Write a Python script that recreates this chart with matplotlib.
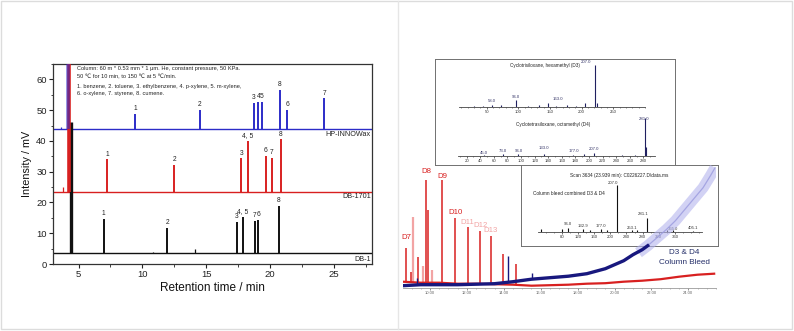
import numpy as np
import matplotlib
matplotlib.use('Agg')
import matplotlib.pyplot as plt
from matplotlib.ticker import MultipleLocator, FormatStrFormatter
from matplotlib.patches import Rectangle
from matplotlib.lines import Line2D

# ---------------- data: left panel (GC chromatograms) ----------------
wax_base = 44.0
wax_t = [9.45, 14.5, 18.73, 19.1, 19.38, 20.76, 21.36, 24.26]
wax_top = [48.8, 50.0, 52.4, 52.6, 52.6, 56.7, 50.1, 53.8]
wax_lab = ['1', '2', '3', '4', '5', '8', '6', '7']

db1701_base = 23.5
db1701_t = [7.25, 12.5, 17.77, 18.26, 19.67, 20.16, 20.84]
db1701_top = [34.0, 32.1, 34.3, 39.9, 35.2, 34.6, 40.5]
db1701_lab = ['1', '2', '3', '4, 5', '6', '7', '8']

db1_base = 3.6
db1_t = [6.97, 11.97, 17.4, 17.87, 18.8, 19.07, 20.7]
db1_top = [14.6, 11.8, 13.7, 15.2, 14.0, 14.3, 19.0]
db1_lab = ['1', '2', '3', '4, 5', '7', '6', '8']

minor_t = {'wax': ([3.6], [44.6]), 'db1701': ([3.78], [25.0]), 'db1': ([10.8, 14.09], [3.9, 4.8])}
solvent_t = {'wax': 4.2, 'db1701': 4.25, 'db1': 4.42}
solvent_top = {'wax': 200.0, 'db1701': 200.0, 'db1': 46.0}

info_lines = ["Column: 60 m * 0.53 mm * 1 \u03bcm. He, constant pressure, 50 KPa.",
              "50 \u2103 for 10 min, to 150 \u2103 at 5 \u2103/min.",
              "1. benzene, 2. toluene, 3. ethylbenzene, 4. p-xylene, 5. m-xylene,",
              "6. o-xylene, 7. styrene, 8. cumene."]

# ---------------- data: right panel (column bleed TIC) ----------------
red_base_t = [8.52, 9.5, 10.5, 11.5, 12.5, 13.5, 14.5, 15.5, 16.5, 17.5, 18.5, 19.5, 20.5, 21.5, 22.5, 23.5, 24.5, 25.4]
red_base_v = [6, 5, 5, 4, 4, 3.5, 3, 2, 2.5, 3, 4, 4.5, 6, 7, 8.5, 11, 13, 14]
red_peak_t = [8.7, 8.95, 9.36, 9.76, 9.9, 10.63, 11.38, 12.07, 12.7, 13.29, 13.96, 14.68]
red_peak_top = [40, 16, 31, 108, 78, 108, 70, 61, 57, 52, 34, 24]
pink_peak_t = [9.06, 9.6, 10.1]
pink_peak_top = [71, 22, 18]
blue_t = [8.52, 9.5, 10.5, 11.5, 12.5, 13.5, 14.5, 15.5, 16.5, 17.5, 18.5, 19.5, 20.5, 21.0, 21.5, 21.8]
blue_v = [2, 3, 3, 3, 3.5, 4, 6, 8.5, 10, 11.5, 14, 19, 27, 33, 38, 42]
blue_peak_t = [9.3, 14.25, 15.55]
blue_peak_top = [10, 32, 15]
lav_t = [21.3, 21.8, 22.3, 22.8, 23.3, 23.8, 24.3, 24.8, 25.2, 25.45]
lav_v = [35, 42, 50, 58, 67, 78, 89, 100, 112, 120]
d_labels = ['D7', 'D8', 'D9', 'D10', 'D11', 'D12', 'D13']
d_lab_t = [8.74, 9.82, 10.68, 11.38, 12.0, 12.74, 13.29]
d_lab_y = [50.4, 116, 111.7, 75.4, 65.7, 62, 57]
d_lab_pink = [False, False, False, False, True, True, True]

# mass spectra
d3_mz = [30, 44, 58, 73, 96, 115, 133, 146, 160, 177, 191, 206, 221, 224]
d3_int = [2, 2, 4, 3, 15, 2, 4, 9, 2, 3, 2, 9, 93, 8]
d3_lab = ['58.0', '96.0', '163.0', '207.0']
d3_lab_y = [12.8, 22.4, 16.6, 100.0]

d4_mz = [45, 73, 96, 133, 177, 193, 207, 249, 267, 282, 284]
d4_int = [3, 6, 5, 5, 3, 5, 7, 3, 3, 99, 25]
d4_lab = ['45.0', '73.0', '96.0', '133.0', '177.0', '207.0', '281.0']
d4_lab_y = [8, 13, 13, 20, 13, 18.4, 97]

cb_mz = [30, 80, 96, 133, 150, 177, 193, 216, 253, 267, 290, 341, 355, 405]
cb_int = [5, 5, 8, 6, 3, 5, 4, 90, 3, 3, 26, 4, 3, 2]
cb_lab = ['96.0', '132.9', '177.0', '207.0', '281.1', '253.1', '355.0', '405.1']
cb_lab_y = [14.9, 11.0, 11.6, 94.8, 33.7, 6.5, 6.0, 6.5]

# ---------------- figure ----------------
W, H = 794, 331
plt.rcParams['font.family'] = ['Liberation Sans', 'DejaVu Sans']
fig = plt.figure(figsize=(W / 100, H / 100), dpi=100)
fig.patch.set_facecolor('white')


def pax(l, t, r, b, **kw):
    return fig.add_axes([l / W, (H - b) / H, (r - l) / W, (b - t) / H], **kw)


BLUE = '#2c2cc8'
RED = '#d82020'
BLACK = '#111111'

# ---- left panel ----
ax = pax(53, 64, 372, 264)
ax.set_xlim(3, 28)
ax.set_ylim(0, 65)

series = [('db1', db1_base, db1_t, db1_top, db1_lab, BLACK),
          ('db1701', db1701_base, db1701_t, db1701_top, db1701_lab, RED),
          ('wax', wax_base, wax_t, wax_top, wax_lab, BLUE)]
for key, base, ts, tops, labs, col in series:
    ax.plot([3, 28], [base, base], color=col, lw=1.0, zorder=2)
    ax.vlines(ts, base, tops, colors=col, lw=1.4, zorder=2)
    mt, mv = minor_t[key]
    ax.vlines(mt, base, mv, colors=col, lw=0.9, zorder=2)
    for t, top, lab in zip(ts, tops, labs):
        ax.text(t, top + 0.6, lab, ha='center', va='bottom', fontsize=4.8, color='#222222')
# solvent peaks
ax.vlines(solvent_t['db1'], db1_base, solvent_top['db1'], colors=BLACK, lw=2.4, zorder=3)
ax.vlines(solvent_t['db1701'], db1701_base, solvent_top['db1701'], colors=RED, lw=2.6, zorder=4)
ax.vlines(solvent_t['wax'], wax_base, solvent_top['wax'], colors=BLUE, lw=2.6, alpha=0.6, zorder=5)

ytop = [63.4, 60.9, 57.8, 55.5]
for s, y in zip(info_lines, ytop):
    ax.text(4.85, y, s, fontsize=4.1, va='center', ha='left', color='#222222')

ax.text(27.9, 42.0, 'HP-INNOWax', ha='right', va='center', fontsize=5.2, color='#222222')
ax.text(27.9, 21.9, 'DB-1701', ha='right', va='center', fontsize=5.2, color='#222222')
ax.text(27.9, 1.6, 'DB-1', ha='right', va='center', fontsize=5.2, color='#222222')

ax.xaxis.set_major_locator(MultipleLocator(5))
ax.xaxis.set_minor_locator(MultipleLocator(2.5))
ax.yaxis.set_major_locator(MultipleLocator(10))
ax.yaxis.set_minor_locator(MultipleLocator(5))
ax.tick_params(which='major', direction='out', length=3, width=0.8, labelsize=6.8, pad=1.5, colors='#222222')
ax.tick_params(which='minor', direction='out', length=1.8, width=0.6, colors='#222222')
for s in ax.spines.values():
    s.set_color('#333333')
    s.set_linewidth(0.9)
ax.set_xlabel('Retention time / min', fontsize=8.5, labelpad=2, color='#111111')
ax.set_ylabel('Intensity / mV', fontsize=7.8, labelpad=3, color='#111111')

# ---- right panel: insets first ----
INS_EDGE = '#707070'
box1 = pax(435, 59, 675, 165)
box1.set_xticks([]); box1.set_yticks([])
for s in box1.spines.values():
    s.set_color(INS_EDGE); s.set_linewidth(0.7)

box2 = pax(521, 165, 718.3, 246)
box2.set_xticks([]); box2.set_yticks([])
for s in box2.spines.values():
    s.set_color(INS_EDGE); s.set_linewidth(0.7)
box2.text(0.5, 0.87, 'Scan 3634 (23.939 min): C0226227.D\\data.ms', transform=box2.transAxes,
          ha='center', va='center', fontsize=3.4, color='#222222')
box2.text(0.06, 0.65, 'Column bleed combined D3 & D4', transform=box2.transAxes,
          ha='left', va='center', fontsize=3.4, color='#222222')


def spec_axes(l, t, r, b, xlim, major, minor):
    a = pax(l, t, r, b)
    a.patch.set_alpha(0)
    a.set_xlim(*xlim)
    a.set_ylim(0, 100)
    for k in ['top', 'right', 'left']:
        a.spines[k].set_visible(False)
    a.spines['bottom'].set_color('#444444')
    a.spines['bottom'].set_linewidth(0.6)
    a.set_yticks([])
    a.xaxis.set_major_locator(MultipleLocator(major))
    a.xaxis.set_minor_locator(MultipleLocator(minor))
    a.tick_params(which='major', direction='out', length=1.5, width=0.5, labelsize=3.1, pad=0.6, colors='#333333')
    a.tick_params(which='minor', direction='out', length=0.8, width=0.4, colors='#333333')
    return a


SPEC = '#202060'
a3 = spec_axes(459, 62, 645, 106.7, (6.2, 300), 50, 10)
a3.set_xticks([50, 100, 150, 200, 250])
a3.vlines(d3_mz, 0, d3_int, colors=SPEC, lw=0.8)
for lab, y in zip(d3_lab, d3_lab_y):
    a3.text(float(lab), y, lab, ha='center', va='center', fontsize=3.1, color='#333366', clip_on=False)
a3.text(142, 91.7, 'Cyclotrisiloxane, hexamethyl (D3)', ha='center', va='center', fontsize=3.3, color='#222222')

a4 = spec_axes(458, 118, 655, 156, (7.2, 297), 20, 10)
a4.set_xticks(np.arange(20, 281, 20))
a4.vlines(d4_mz, 0, d4_int, colors=SPEC, lw=0.8)
for lab, y in zip(d4_lab, d4_lab_y):
    a4.text(float(lab), y, lab, ha='center', va='center', fontsize=3.1, color='#333366', clip_on=False)
a4.text(146.7, 81.6, 'Cyclotetrasiloxane, octamethyl (D4)', ha='center', va='center', fontsize=3.3, color='#222222')

a5 = spec_axes(538, 180, 701.7, 231.7, (21.4, 426), 40, 20)
a5.set_xticks(np.arange(80, 361, 40))
a5.vlines(cb_mz, 0, cb_int, colors='#111111', lw=0.8)
for lab, y in zip(cb_lab, cb_lab_y):
    a5.text(float(lab), y, lab, ha='center', va='center', fontsize=3.1, color='#333333', clip_on=False)

# ---- right panel: main chromatogram on top ----
am = pax(402.7, 160, 716, 287.7)
am.patch.set_alpha(0)
am.set_xlim(8.52, 25.5)
am.set_ylim(0, 127.7)
for k in ['top', 'right', 'left']:
    am.spines[k].set_visible(False)
am.spines['bottom'].set_color('#9a9a9a')
am.spines['bottom'].set_linewidth(0.6)
am.set_yticks([])
am.xaxis.set_major_locator(MultipleLocator(2))
am.xaxis.set_minor_locator(MultipleLocator(0.5))
am.xaxis.set_major_formatter(FormatStrFormatter('%.2f'))
am.set_xticks(np.arange(10, 25, 2))
am.tick_params(which='major', direction='out', length=1.5, width=0.5, labelsize=3.0, pad=0.8, colors='#666666')
am.tick_params(which='minor', direction='out', length=0.9, width=0.4, colors='#888888')

LAV = '#b4b4ee'
NAVY = '#18187e'
PINK = '#f2a4a4'
am.plot(lav_t, lav_v, color=LAV, lw=8, alpha=0.6, solid_capstyle='butt', zorder=2)
am.plot(lav_t, lav_v, color='#9a9ade', lw=0.9, alpha=0.8, zorder=2)
am.vlines(pink_peak_t, np.interp(pink_peak_t, red_base_t, red_base_v), pink_peak_top, colors=PINK, lw=1.6, zorder=2)
am.plot(red_base_t, red_base_v, color=RED, lw=1.6, zorder=3)
am.vlines(red_peak_t, np.interp(red_peak_t, red_base_t, red_base_v), red_peak_top, colors=RED, lw=1.1, zorder=3)
am.plot(blue_t, blue_v, color=NAVY, lw=2.4, zorder=4)
am.vlines(blue_peak_t, np.interp(blue_peak_t, blue_t, blue_v), blue_peak_top, colors=NAVY, lw=1.0, zorder=4)

for lab, t, y, pk in zip(d_labels, d_lab_t, d_lab_y, d_lab_pink):
    am.text(t, y, lab, ha='center', va='center', fontsize=5.6, color=PINK if pk else RED, clip_on=False)

am.text(23.79, 35, 'D3 & D4', ha='center', va='center', fontsize=5.9, color='#26306a')
am.text(23.79, 25, 'Column Bleed', ha='center', va='center', fontsize=5.9, color='#26306a')

# ---- light frame around the whole picture ----
fig.patches.append(Rectangle((1 / W, 2 / H), 791 / W, 328 / H, transform=fig.transFigure,
                             fill=False, ec='#dcdcdc', lw=1.0))
fig.lines.append(Line2D([398 / W, 398 / W], [2 / H, 330 / H], transform=fig.transFigure, color='#e6e6e6', lw=1.0))

fig.savefig('out.png', dpi=100, facecolor='white')
